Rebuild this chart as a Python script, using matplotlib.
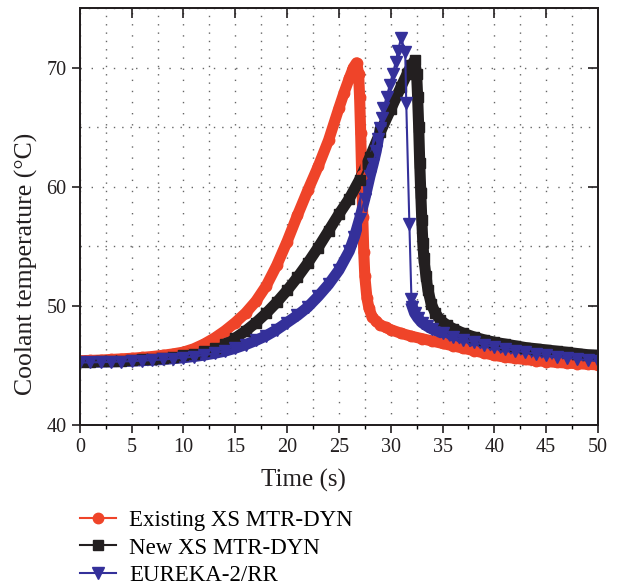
import matplotlib
matplotlib.use('Agg')
import numpy as np
from matplotlib import pyplot as plt
from matplotlib.ticker import MultipleLocator

plt.rcParams['font.family'] = ['Liberation Serif', 'DejaVu Serif']

# Existing XS MTR-DYN
red_t = [0, 1, 2, 3, 4, 5, 6, 7, 8, 9, 10, 11, 12, 13, 14, 15, 16, 17, 18, 19,
         20, 21, 22, 23, 24, 25, 25.5, 26, 26.4, 26.7, 26.9, 27.0, 27.1, 27.2,
         27.3, 27.4, 27.5, 27.7, 27.9, 28.2, 28.6, 29, 29.5, 30, 31, 32, 33, 34,
         35, 36, 37, 38, 39, 40, 41, 42, 43, 44, 45, 46, 47, 48, 49, 50]
red_T = [45.4, 45.42, 45.45, 45.5, 45.55, 45.6, 45.67, 45.75, 45.85, 45.97,
         46.12, 46.4, 46.8, 47.3, 47.9, 48.6, 49.4, 50.4, 51.7, 53.4,
         55.4, 57.6, 59.7, 61.7, 63.9, 66.6, 67.9, 69.1, 70.0, 70.4, 69.5,
         67.5, 64.5, 61.0, 57.5, 54.5, 52.5, 50.7, 49.8, 49.1, 48.7, 48.4,
         48.2, 48.0, 47.7, 47.45, 47.25, 47.05, 46.85, 46.65, 46.45, 46.25,
         46.05, 45.85, 45.7, 45.6, 45.5, 45.4, 45.33, 45.26, 45.2, 45.15,
         45.1, 45.05]

# New XS MTR-DYN
black_t = [0, 1, 2, 3, 4, 5, 6, 7, 8, 9, 10, 11, 12, 13, 14, 15, 16, 17, 18,
           19, 20, 21, 22, 23, 24, 25, 26, 27, 28, 29, 30, 31, 31.6, 32.0,
           32.3, 32.5, 32.6, 32.7, 32.8, 32.9, 33.0, 33.1, 33.2, 33.4, 33.6,
           33.9, 34.3, 34.8, 35.4, 36, 37, 38, 39, 40, 41, 42, 43, 44, 45, 46,
           47, 48, 49, 50]
black_T = [45.3, 45.32, 45.34, 45.37, 45.4, 45.44, 45.5, 45.56, 45.64, 45.74,
           45.86, 46.0, 46.2, 46.45, 46.8, 47.3, 47.9, 48.6, 49.4, 50.3, 51.3,
           52.4, 53.6, 54.9, 56.3, 57.7, 59.0, 60.6, 62.5, 64.6, 66.5, 68.4,
           69.5, 70.2, 70.6, 69.5, 67.5, 65.0, 62.0, 59.5, 57.2, 55.3, 54.0,
           52.5, 51.3, 50.2, 49.4, 48.8, 48.4, 48.1, 47.7, 47.4, 47.15, 46.95,
           46.8, 46.65, 46.5, 46.4, 46.3, 46.2, 46.1, 46.0, 45.9, 45.85]

# EUREKA-2/RR
blue_t = [0, 1, 2, 3, 4, 5, 6, 7, 8, 9, 10, 11, 12, 13, 14, 15, 16, 17, 18,
          19, 20, 21, 22, 23, 24, 25, 26, 26.5, 27, 27.5, 28, 28.3, 28.6, 28.8,
          29.0, 29.2, 29.3, 29.6, 29.9, 30.2, 30.5, 30.7, 31.0, 31.4, 31.5,
          31.8, 32.0, 32.1, 32.3, 32.6, 33.0, 33.5, 34, 35, 36, 37, 38, 39, 40,
          41, 42, 43, 44, 45, 46, 47, 48, 49, 50]
blue_T = [45.25, 45.26, 45.28, 45.3, 45.33, 45.36, 45.4, 45.45, 45.5, 45.57,
          45.65, 45.75, 45.87, 46.02, 46.2, 46.45, 46.75, 47.1, 47.5, 48.0,
          48.6, 49.2, 49.9, 50.8, 51.8, 53.0, 54.6, 55.8, 57.3, 59.0, 60.9,
          61.9, 63.0, 64.0, 64.9, 65.8, 66.6, 67.5, 68.5, 69.5, 70.5, 71.4,
          72.5, 71.3, 67.0, 56.9, 50.6, 49.9, 49.4, 49.0, 48.6, 48.3, 48.05,
          47.7, 47.4, 47.15, 46.95, 46.75, 46.55, 46.4, 46.25, 46.1, 45.98,
          45.86, 45.75, 45.65, 45.55, 45.45, 45.38]

red = '#ef4429'
black = '#231f20'
blue = '#34309a'
ink = '#231f20'

fig = plt.figure(figsize=(6.19, 5.86), dpi=100)
ax = fig.add_axes([0.129, 0.2747, 0.837, 0.7116])

# thick bands formed by the dense markers
ax.plot(red_t, red_T, color=red, lw=8)
ax.plot(black_t, black_T, color=black, lw=8)
i1 = blue_t.index(29.0)
i2 = blue_t.index(32.1)
ax.plot(blue_t[:i1 + 1], blue_T[:i1 + 1], color=blue, lw=8)
ax.plot(blue_t[i2:], blue_T[i2:], color=blue, lw=8)

ax.plot(red_t, red_T, '-o', color=red, lw=1.5, ms=7.5, mec=red,
        label='Existing XS MTR-DYN')
ax.plot(black_t, black_T, '-s', color=black, lw=1.5, ms=6.5, mec=black,
        label='New XS MTR-DYN')
ax.plot(blue_t, blue_T, '-v', color=blue, lw=1.5, ms=8.5, mec=blue,
        label='EUREKA-2/RR')

ax.set_xlim(0, 50)
ax.set_ylim(40, 75)
ax.xaxis.set_major_locator(MultipleLocator(5))
ax.xaxis.set_minor_locator(MultipleLocator(2.5))
ax.yaxis.set_major_locator(MultipleLocator(10))
ax.yaxis.set_minor_locator(MultipleLocator(5))

ax.grid(True, which='major', color='#666666', linestyle=(0, (1, 7)), lw=1)
ax.grid(True, which='minor', color='#666666', linestyle=(0, (1, 5)), lw=1)
ax.set_axisbelow(True)

ax.tick_params(which='major', direction='out', length=6, width=1.2,
               labelsize=14.5, colors=ink)
ax.tick_params(axis='x', which='minor', direction='out', length=3, width=1)
ax.tick_params(axis='y', which='minor', length=0)
for s in ax.spines.values():
    s.set_linewidth(1.2)
    s.set_color(ink)

# inward ticks on top and right
ax_top = ax.twiny()
ax_top.set_xlim(ax.get_xlim())
ax_top.xaxis.set_major_locator(MultipleLocator(5))
ax_top.tick_params(axis='x', direction='in', length=7, width=1.2,
                   labeltop=False, colors=ink)
ax_right = ax.twinx()
ax_right.set_ylim(ax.get_ylim())
ax_right.yaxis.set_major_locator(MultipleLocator(10))
ax_right.tick_params(axis='y', direction='in', length=7, width=1.2,
                     labelright=False, colors=ink)
for extra in (ax_top, ax_right):
    for s in extra.spines.values():
        s.set_linewidth(1.2)
        s.set_color(ink)

ax.set_xlabel('Time (s)', fontsize=18, color=ink)
ax.set_ylabel('Coolant temperature (°C)', fontsize=18.5, color=ink)
ax.xaxis.set_label_coords((304 - 80) / 518, -(469 - 425) / 417)
ax.yaxis.set_label_coords(-(80 - 38) / 518, (425 - 264) / 417)

fig.legend(handles=ax.get_lines()[-3:], loc='upper left',
           bbox_to_anchor=(80 / 619, 1 - 510 / 586),
           frameon=False, fontsize=16.5, numpoints=1, handlelength=1.55,
           handletextpad=0.6, labelspacing=0.28, borderpad=0,
           borderaxespad=0)

fig.savefig('out.png', dpi=100)
